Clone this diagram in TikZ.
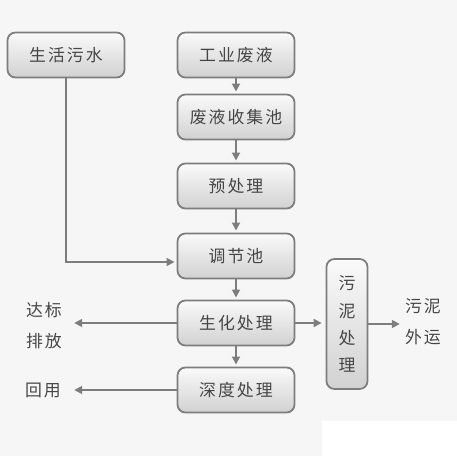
\documentclass[tikz,border=0pt]{standalone}
\usepackage{fontspec}
\setmainfont{Noto Sans CJK SC}[LetterSpace=12]
\usetikzlibrary{arrows.meta,positioning}
\definecolor{bgcol}{RGB}{246,246,246}
\definecolor{boxline}{RGB}{125,125,125}
\definecolor{txtcol}{RGB}{70,70,70}

\begin{document}
\begin{tikzpicture}[
    x=0.02cm, y=-0.02cm,
    font=\fontsize{9.6}{15.4}\selectfont, text=txtcol,
    proc/.style={draw=boxline, line width=1pt, rounded corners=4.5pt, top color=gray!4, bottom color=gray!36, minimum width=2.34cm, minimum height=0.9cm, align=center, inner sep=0pt},
    tall/.style={proc, minimum width=0.82cm, minimum height=2.6cm},
    outtext/.style={align=center, inner sep=0pt, font=\fontsize{9.6}{17.6}\selectfont},
    arrow/.style={-{Triangle[length=1.6mm,width=1.6mm]}, draw=boxline, line width=1pt, shorten >=1.2pt}
  ]
    \fill[bgcol] (0,0) rectangle (457,456);
    \fill[white] (322,421) rectangle (457,456);

    \node[proc] (shws) at (66,55) {生活污水};
    \node[proc] (gyfy) at (236,55) {工业废液};
    \node[proc] (fysjc) at (236,117) {废液收集池};
    \node[proc] (ycl) at (236,186) {预处理};
    \node[proc] (tjc) at (236,256) {调节池};
    \node[proc] (shcl) at (236,323) {生化处理};
    \node[proc] (sdcl) at (236,390) {深度处理};
    \node[tall] (wncl) at (347,324) {污\\泥\\处\\理};
    \node[outtext] (dbpf) at (44,326) {达标\\排放};
    \node[outtext] (hy) at (43,390) {回用};
    \node[outtext] (wnwy) at (423,322) {污泥\\外运};

    \draw[arrow] (gyfy) -- (fysjc);
    \draw[arrow] (fysjc) -- (ycl);
    \draw[arrow] (ycl) -- (tjc);
    \draw[arrow] (tjc) -- (shcl);
    \draw[arrow] (shcl) -- (sdcl);
    \draw[arrow] (shws) |- ([yshift=-0.12cm]tjc.west);
    \draw[arrow, shorten >=0.08cm] (shcl.east) -- (shcl.east -| wncl.west);
    \draw[arrow, shorten >=0.1cm] (wncl) -- (wncl.east -| wnwy.west);
    \draw[arrow, shorten >=0.24cm] (shcl.west) -- (shcl.west -| dbpf.east);
    \draw[arrow, shorten >=0.26cm] (sdcl.west) -- (sdcl.west -| hy.east);
  \end{tikzpicture}
\end{document}
